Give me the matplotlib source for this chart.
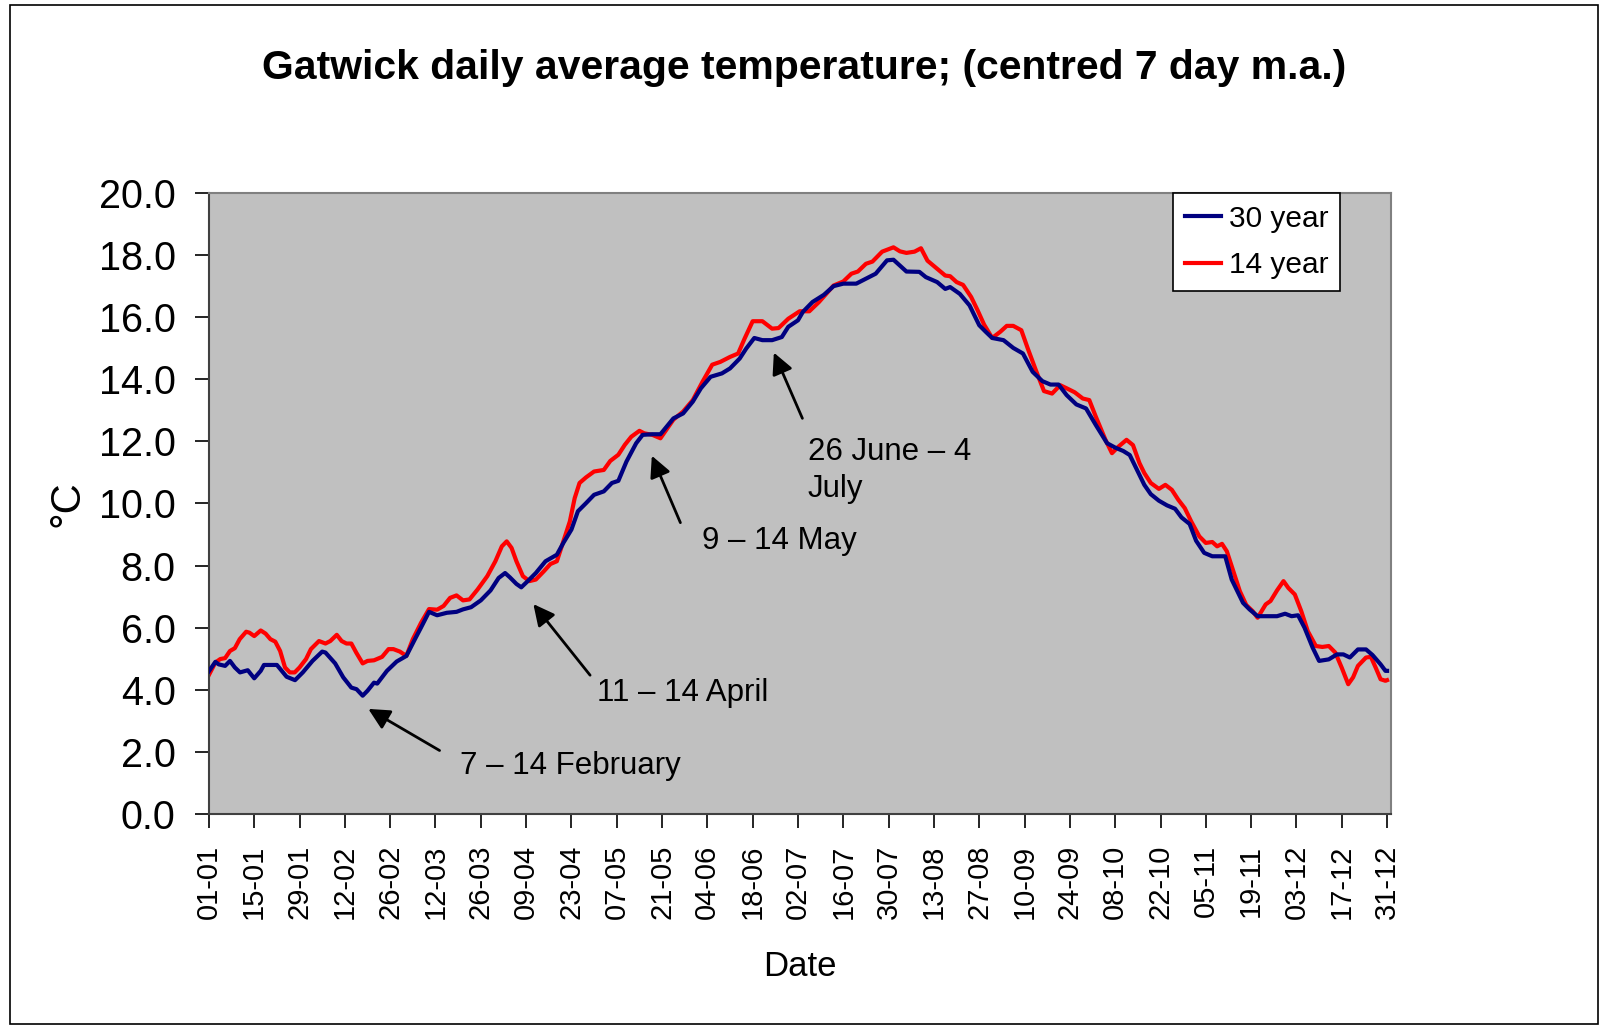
import matplotlib
matplotlib.use("Agg")
import matplotlib.pyplot as plt
from matplotlib.patches import Rectangle

# day of year (0 = 1 Jan) and centred 7 day mean, 30 year normal
days_30 = [0, 2, 3, 5, 6.5, 8, 9.6, 12, 14, 16, 17, 21, 24, 26.6, 29, 32, 35, 36,
           39, 41.5, 44, 45.6, 47.5, 49, 51, 52, 55, 58, 61, 63.5, 65.5, 68, 70.5,
           73.5, 76.5, 78.5, 81, 84, 87, 89.5, 91.5, 93, 95, 96.5, 98.5, 101, 104,
           107.5, 109.5, 112, 114, 116.5, 119, 122, 124.5, 126.5, 129, 132, 134,
           137, 139.5, 143.5, 146.5, 149.5, 152, 155, 158.5, 161, 164, 166, 168.5,
           171, 174, 177, 179, 182, 183.5, 186.5, 190, 193, 196, 200, 203, 206,
           209.5, 211.5, 213.5, 215.5, 219.5, 221.5, 225, 227.5, 229, 232, 235,
           238, 240, 242, 245.5, 248.5, 251.5, 254.5, 257.5, 260, 262.5, 265, 268,
           271, 274, 277.5, 280, 282.5, 284.5, 287, 289, 291, 293.5, 296, 298.5,
           300.5, 303, 305, 307.5, 310, 314, 316, 317.5, 319.5, 321.5, 324, 330,
           332.5, 334.5, 336.5, 338.5, 341, 343, 346, 348.5, 350.5, 352.5, 355,
           357.5, 359.5, 362, 363.5, 364]
temp_30 = [4.6, 4.9, 4.82, 4.77, 4.93, 4.72, 4.56, 4.63, 4.37, 4.61, 4.8, 4.8,
           4.42, 4.31, 4.56, 4.93, 5.23, 5.2, 4.85, 4.4, 4.07, 4.02, 3.81, 3.97,
           4.23, 4.2, 4.61, 4.91, 5.09, 5.6, 6.0, 6.51, 6.4, 6.48, 6.51, 6.59,
           6.66, 6.88, 7.2, 7.6, 7.76, 7.62, 7.41, 7.3, 7.5, 7.76, 8.14, 8.35,
           8.73, 9.16, 9.75, 10.01, 10.28, 10.39, 10.66, 10.73, 11.35, 11.94,
           12.21, 12.23, 12.23, 12.74, 12.9, 13.28, 13.71, 14.08, 14.19, 14.35,
           14.67, 14.99, 15.33, 15.26, 15.26, 15.36, 15.69, 15.9, 16.17, 16.49,
           16.72, 17.0, 17.08, 17.08, 17.24, 17.4, 17.83, 17.85, 17.66, 17.47,
           17.46, 17.29, 17.13, 16.91, 16.97, 16.75, 16.38, 15.74, 15.53, 15.33,
           15.26, 15.01, 14.83, 14.24, 13.94, 13.83, 13.83, 13.49, 13.19, 13.06,
           12.53, 11.94, 11.8, 11.69, 11.56, 11.03, 10.6, 10.3, 10.09, 9.94,
           9.83, 9.55, 9.34, 8.8, 8.41, 8.3, 8.3, 7.55, 7.23, 6.8, 6.59, 6.37,
           6.37, 6.45, 6.37, 6.4, 6.0, 5.36, 4.93, 4.98, 5.14, 5.14, 5.04, 5.3,
           5.3, 5.12, 4.82, 4.61, 4.61]

# 14 year mean
days_14 = [0, 2, 3.5, 5, 6.5, 8, 9.5, 11.5, 12.5, 14, 16, 17.5, 19, 20.5, 22,
           23.5, 25, 26.5, 28, 30, 31.5, 34, 36, 37.5, 39.5, 41, 42.5, 44, 45.5,
           47.5, 49, 51, 53.5, 55.5, 57, 59, 61, 63, 65.5, 68, 70.5, 72.5, 74.5,
           76.5, 78.5, 80.5, 83, 86, 88.5, 90.5, 92, 93.5, 95, 97, 99, 101, 103.5,
           105.5, 107.5, 109.5, 111.5, 113, 114.5, 116.5, 119, 122, 124, 126.5,
           128.5, 130.5, 133, 134.5, 137, 139.5, 143.5, 146.5, 149.5, 152.5,
           155.5, 158, 161, 163.5, 165.5, 168, 171, 174, 176, 179, 182.5, 185.5,
           188.5, 193, 196, 198.5, 200.5, 203, 205, 208, 211.5, 213.5, 215.5, 218,
           220, 222, 225, 227.5, 229, 231, 233, 235.5, 237.5, 239.5, 242, 244.5,
           246.5, 248.5, 251, 253, 255.5, 258, 260.5, 263, 265, 267.5, 270, 272,
           274, 277, 279, 281, 283.5, 285.5, 287.5, 289, 291, 293.5, 295.5, 297.5,
           299.5, 301.5, 303.5, 306, 308, 310, 311.5, 313, 314.5, 316.5, 318.5,
           320.5, 322.5, 324, 326.5, 328, 330, 332, 333.5, 335.5, 337.5, 339.5,
           342, 344, 346, 348, 350, 352, 353.5, 355, 357.5, 359, 360.5, 362,
           363.5, 364]
temp_14 = [4.48, 4.88, 4.99, 5.02, 5.25, 5.34, 5.63, 5.87, 5.84, 5.73, 5.91,
           5.81, 5.63, 5.55, 5.25, 4.72, 4.56, 4.56, 4.72, 4.99, 5.31, 5.57,
           5.49, 5.57, 5.77, 5.57, 5.49, 5.49, 5.2, 4.85, 4.93, 4.95, 5.06, 5.31,
           5.31, 5.23, 5.09, 5.63, 6.15, 6.6, 6.58, 6.7, 6.96, 7.04, 6.88, 6.91,
           7.23, 7.66, 8.14, 8.62, 8.78, 8.57, 8.14, 7.66, 7.5, 7.55, 7.82, 8.05,
           8.14, 8.78, 9.42, 10.17, 10.66, 10.84, 11.03, 11.08, 11.37, 11.57,
           11.89, 12.15, 12.34, 12.26, 12.21, 12.1, 12.7, 12.96, 13.33, 13.92,
           14.47, 14.56, 14.72, 14.83, 15.31, 15.87, 15.87, 15.63, 15.65, 15.95,
           16.19, 16.19, 16.49, 17.02, 17.15, 17.4, 17.47, 17.72, 17.79, 18.11,
           18.25, 18.12, 18.07, 18.11, 18.22, 17.82, 17.56, 17.34, 17.32, 17.13,
           17.04, 16.65, 16.22, 15.76, 15.33, 15.53, 15.72, 15.72, 15.58, 14.99,
           14.29, 13.62, 13.54, 13.81, 13.71, 13.58, 13.38, 13.33, 12.8, 12.05,
           11.62, 11.83, 12.05, 11.88, 11.3, 10.98, 10.66, 10.47, 10.6, 10.44,
           10.12, 9.85, 9.42, 8.94, 8.73, 8.76, 8.62, 8.7, 8.46, 7.82, 7.18, 6.73,
           6.53, 6.32, 6.75, 6.86, 7.2, 7.5, 7.28, 7.07, 6.53, 5.89, 5.41, 5.38,
           5.41, 5.2, 4.71, 4.18, 4.4, 4.77, 5.04, 5.06, 4.71, 4.34, 4.29, 4.31]

tick_days = list(range(0, 365, 14))
tick_labels = ["01-01", "15-01", "29-01", "12-02", "26-02", "12-03", "26-03",
               "09-04", "23-04", "07-05", "21-05", "04-06", "18-06", "02-07",
               "16-07", "30-07", "13-08", "27-08", "10-09", "24-09", "08-10",
               "22-10", "05-11", "19-11", "03-12", "17-12", "31-12"]

# (text, text pos, arrow tail, arrow head) in data units
notes = [
    ("7 \u2013 14 February", (77.6, 1.55), (72.0, 2.0), (48.5, 3.43)),
    ("11 \u2013 14 April", (119.9, 3.91), (118.3, 4.40), (99.7, 6.83)),
    ("9 \u2013 14 May", (152.2, 8.78), (146.0, 9.30), (136.5, 11.62)),
    ("26 June \u2013 4\nJuly", (185.1, 11.05), (183.7, 12.66), (174.2, 14.94)),
]

plain = ["Liberation Sans", "DejaVu Sans"]

fig = plt.figure(figsize=(16.01, 10.27), dpi=100)
ax = fig.add_axes([0.1305, 0.2074, 0.7383, 0.6047])
# thin frame round the whole chart
fig.patches.append(Rectangle((10 / 1601, 3 / 1027), 1588 / 1601, 1019 / 1027,
                             transform=fig.transFigure, fill=False,
                             edgecolor="black", linewidth=1.2))

ax.set_facecolor("#c0c0c0")
ax.plot(days_30, temp_30, color="#000080", lw=3, label="30 year", zorder=3)
ax.plot(days_14, temp_14, color="#ff0000", lw=3, label="14 year", zorder=2)

ax.set_xlim(0, 365.2)
ax.set_ylim(0, 20)
ax.set_yticks(range(0, 21, 2))
ax.set_yticklabels([f"{v:.1f}" for v in range(0, 21, 2)], family=plain, fontsize=28.5)
ax.set_xticks(tick_days)
ax.set_xticklabels(tick_labels, rotation=90, family=plain, fontsize=21)
ax.tick_params(axis="y", length=10, width=1.2, pad=14, colors="black")
ax.tick_params(axis="x", length=10, width=1.2, pad=12, colors="black")
for s in ax.spines.values():
    s.set_color("#808080")
    s.set_linewidth(1.5)
ax.spines["left"].set_color("#404040")
ax.spines["bottom"].set_color("#404040")

ax.set_xlabel("Date", family=plain, fontsize=25, labelpad=22)
ax.set_ylabel("\u00b0C", family=plain, fontsize=30, labelpad=8)

for txt, pos, tail, head in notes:
    ax.annotate("", xy=head, xytext=tail,
                arrowprops=dict(arrowstyle="-|>", color="black", lw=2,
                                mutation_scale=32))
    ax.text(pos[0], pos[1], txt, family=plain, fontsize=22.5, va="center",
            ha="left", linespacing=1.3)

leg = ax.legend(loc="upper right", bbox_to_anchor=(0.957, 1.0),
                prop={"family": plain, "size": 21.5},
                frameon=True, fancybox=False, framealpha=1, edgecolor="black",
                handlelength=1.2, borderpad=0.4, labelspacing=0.62,
                handletextpad=0.25, borderaxespad=0)
leg.get_frame().set_linewidth(1.2)

fig.text(0.5025, 1 - 68 / 1027, "Gatwick daily average temperature; (centred 7 day m.a.)",
         family=plain, fontsize=29.4, fontweight="bold", ha="center", va="center")

fig.savefig("out.png", dpi=100)
